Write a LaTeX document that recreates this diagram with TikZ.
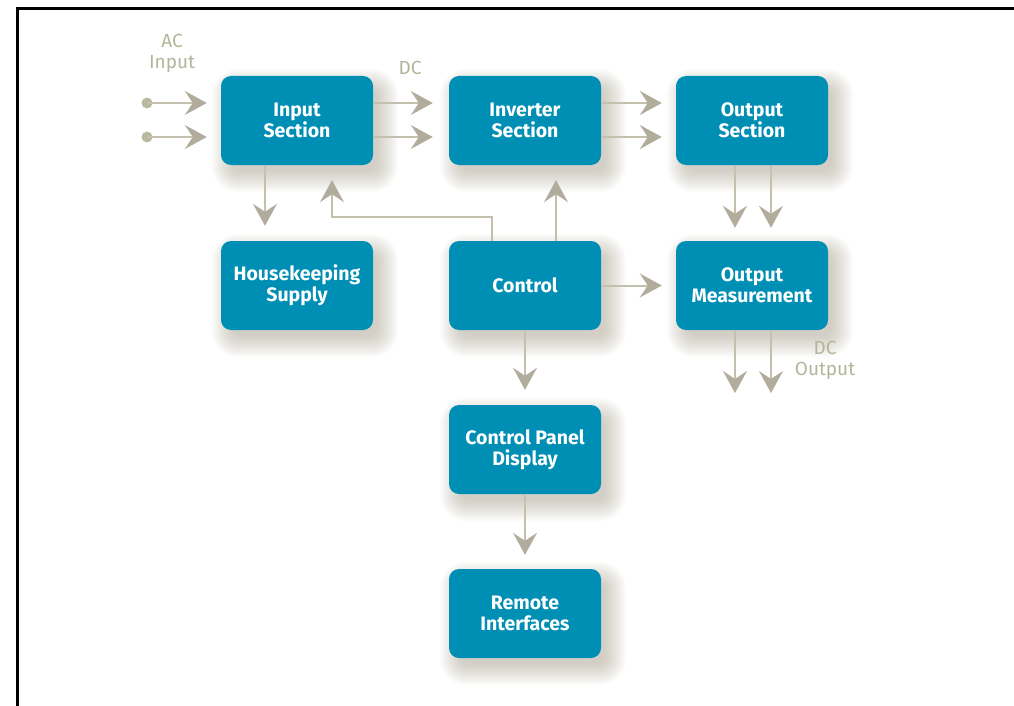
\documentclass[tikz,border=0pt]{standalone}
\usepackage{fontspec}
\setmainfont{Fira Sans}
\usetikzlibrary{arrows.meta,backgrounds}
\definecolor{boxc}{HTML}{008FB4}
\definecolor{linec}{HTML}{C4C0AE}
\definecolor{tipc}{HTML}{B2AC9C}
\definecolor{dotc}{HTML}{BAB99F}
\definecolor{labc}{HTML}{B3B59A}
\definecolor{shadc}{HTML}{8A8068}
\tikzset{
  blk/.style={draw=none, fill=boxc, rounded corners=10pt, minimum width=152pt, minimum height=89pt,
    text=white, font=\bfseries\fontsize{19.5}{21}\selectfont, align=center},
  conn/.style={draw=linec, line width=2pt, -{Stealth[length=22pt, width=24pt, inset=8pt, color=tipc]}},
  lab/.style={text=labc, font=\fontsize{19}{21}\selectfont, align=center},
  dotn/.style={circle, fill=dotc, inner sep=0pt, minimum size=11pt},
  shad/.style={fill=shadc, fill opacity=0.033}
}
\begin{document}
\begin{tikzpicture}[x=1pt, y=-1pt]
\useasboundingbox (0,0) rectangle (1014,706);
% frame
\coordinate (f1) at (17,706);
\coordinate (f2) at (17,9);
\coordinate (f3) at (1014,9);
\draw[line width=3pt, black] (f1) -- (f2) -- (f3);
% blocks
\node[blk] (inp) at (297,120.5) {Input\\Section};
\node[blk] (inv) at (525,120.5) {Inverter\\Section};
\node[blk] (out) at (752,120.5) {Output\\Section};
\node[blk] (hk) at (297,285.5) {Housekeeping\\Supply};
\node[blk] (ctl) at (525,285.5) {Control};
\node[blk] (om) at (752,285.5) {Output\\Measurement};
\node[blk] (cpd) at (525,449.5) {Control Panel\\Display};
\node[blk] (rem) at (525,613.5) {Remote\\Interfaces};
% soft shadows
\begin{pgfonlayer}{background}
\foreach \n in {inp,inv,out,hk,ctl,om,cpd,rem}{
  \foreach \e in {-4,-2.5,...,18}{
    \pgfmathsetmacro{\rc}{10+max(\e,0)}
    \fill[shad, rounded corners=\rc pt]
      ([xshift=8pt-\e pt, yshift=-10pt-\e pt]\n.south west) rectangle ([xshift=8pt+\e pt, yshift=-10pt+\e pt]\n.north east);
  }
}
\end{pgfonlayer}
% labels
\node[lab] (lac) at (172,53) {AC\\Input};
\node[lab] (ldc) at (410,68) {DC};
\node[lab] (ldco) at (825,360) {DC\\Output};
% AC input
\node[dotn] (d1) at (147,103) {};
\node[dotn] (d2) at (147,137) {};
\draw[conn, shorten >=14pt] (d1.center) -- (d1 -| inp.west);
\draw[conn, shorten >=14pt] (d2.center) -- (d2 -| inp.west);
% top row
\draw[conn, shorten >=16pt] ([yshift=17.5pt]inp.east) -- ([yshift=17.5pt]inv.west);
\draw[conn, shorten >=16pt] ([yshift=-16.5pt]inp.east) -- ([yshift=-16.5pt]inv.west);
\draw[conn, shorten >=14pt] ([yshift=17.5pt]inv.east) -- ([yshift=17.5pt]out.west);
\draw[conn, shorten >=14pt] ([yshift=-16.5pt]inv.east) -- ([yshift=-16.5pt]out.west);
% downward
\draw[conn, shorten >=15pt] ([xshift=-32pt]inp.south) -- ([xshift=-32pt]hk.north);
\draw[conn, shorten >=13pt] ([xshift=-17pt]out.south) -- ([xshift=-17pt]om.north);
\draw[conn, shorten >=13pt] ([xshift=19pt]out.south) -- ([xshift=19pt]om.north);
% control
\draw[conn, shorten >=15pt] ([xshift=-33pt]ctl.north) -- ++(0,-24) -| ([xshift=35pt]inp.south);
\draw[conn, shorten >=15pt] ([xshift=31pt]ctl.north) -- ([xshift=31pt]inv.south);
\draw[conn, shorten >=14pt] (ctl.east) -- (om.west);
\draw[conn, shorten >=15pt] (ctl.south) -- (cpd.north);
\draw[conn, shorten >=14pt] (cpd.south) -- (rem.north);
% DC output
\coordinate (o1) at (735,393);
\coordinate (o2) at (771,393);
\draw[conn] ([xshift=-17pt]om.south) -- (o1);
\draw[conn] ([xshift=19pt]om.south) -- (o2);
\end{tikzpicture}
\end{document}
